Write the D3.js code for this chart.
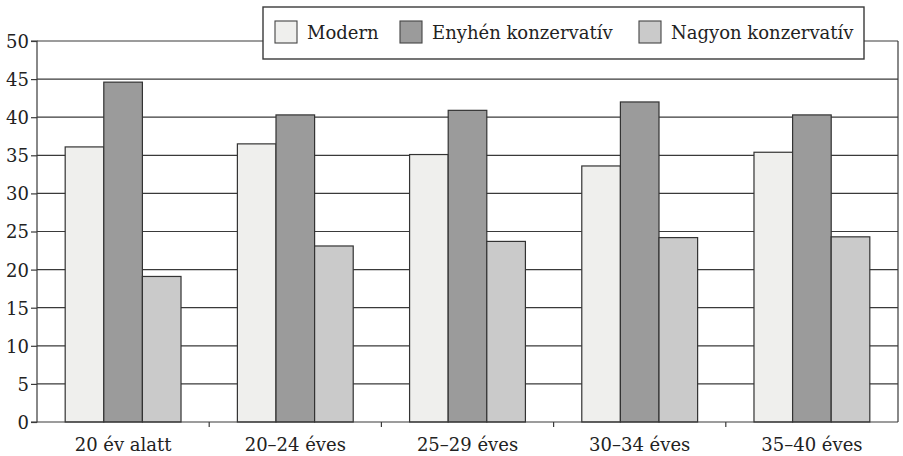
<!DOCTYPE html>
<html><head><meta charset="utf-8">
<script src="https://cdn.jsdelivr.net/npm/d3@7"></script>
<style>
html,body{margin:0;padding:0;background:#fff;}
svg{display:block;}
text{font-family:"DejaVu Serif",serif;fill:#222;}
</style></head>
<body><svg id="c" width="903" height="456"></svg>
<script>
const categories = ["20 év alatt","20–24 éves","25–29 éves","30–34 éves","35–40 éves"];
const seriesNames = ["Modern","Enyhén konzervatív","Nagyon konzervatív"];
const modern = [36.1, 36.5, 35.1, 33.6, 35.4];
const enyhen = [44.6, 40.3, 40.9, 42.0, 40.3];
const nagyon = [19.1, 23.1, 23.7, 24.2, 24.3];
const yTicks = [0,5,10,15,20,25,30,35,40,45,50];
const colors = ["#efefed","#9b9b9b","#cacaca"];

const values = [modern, enyhen, nagyon];
const svg = d3.select("#c");
const L = 37, R = 898, T = 41, B = 422;
const FS = 18;

const x0 = d3.scaleBand().domain(categories).range([L, R]).padding(0);
const x1 = d3.scaleBand().domain(seriesNames).range([0, x0.bandwidth()]).paddingInner(0).paddingOuter(0.73);
const y = d3.scaleLinear().domain([0, 50]).range([B, T]);

// gridlines
svg.append("g").selectAll("line").data(yTicks.filter(d => d > 0)).join("line")
  .attr("x1", L).attr("x2", R).attr("y1", d => y(d)).attr("y2", d => y(d))
  .attr("stroke", "#3a3a3a").attr("stroke-width", 1.2);

// right border
svg.append("line").attr("x1", R).attr("x2", R).attr("y1", T).attr("y2", B)
  .attr("stroke", "#3a3a3a").attr("stroke-width", 1.2);

// bars
const g = svg.append("g");
categories.forEach((c, i) => {
  g.selectAll(null).data(seriesNames.map((s, j) => ({s, j, v: values[j][i]}))).join("rect")
    .attr("x", d => x0(c) + x1(d.s))
    .attr("y", d => y(d.v))
    .attr("width", x1.bandwidth())
    .attr("height", d => B - y(d.v))
    .attr("fill", d => colors[d.j])
    .attr("stroke", "#333").attr("stroke-width", 1.2);
});

// y axis
const yAxis = d3.axisLeft(y).tickValues(yTicks).tickSize(6).tickPadding(2);
const ya = svg.append("g").attr("transform", `translate(${L},0)`).call(yAxis);
ya.select(".domain").attr("stroke", "#3a3a3a").attr("stroke-width", 1.2).attr("d", `M-6,${B}H0V${T}H-6`);
ya.selectAll(".tick line").attr("stroke", "#3a3a3a").attr("stroke-width", 1.2);
ya.selectAll(".tick text").attr("font-size", FS).attr("font-family", "DejaVu Serif").attr("fill", "#222").attr("dy", "0.36em");

// x axis
const xAxis = d3.axisBottom(x0).tickSize(0).tickPadding(16);
const xa = svg.append("g").attr("transform", `translate(0,${B})`).call(xAxis);
xa.select(".domain").attr("stroke", "#3a3a3a").attr("stroke-width", 1.2).attr("d", `M${L},0H${R}`);
xa.selectAll(".tick text").attr("font-size", FS).attr("font-family", "DejaVu Serif").attr("fill", "#222");
// boundary ticks
svg.append("g").selectAll("line").data(categories.slice(1)).join("line")
  .attr("x1", d => x0(d)).attr("x2", d => x0(d)).attr("y1", B).attr("y2", B + 5)
  .attr("stroke", "#3a3a3a").attr("stroke-width", 1.2);

// legend
const lg = svg.append("g");
lg.append("rect").attr("x", 263).attr("y", 7).attr("width", 601).attr("height", 52)
  .attr("fill", "#fff").attr("stroke", "#3a3a3a").attr("stroke-width", 1.4);
const legX = [275, 400, 639];
seriesNames.forEach((s, j) => {
  lg.append("rect").attr("x", legX[j]).attr("y", 21).attr("width", 22).attr("height", 22)
    .attr("fill", colors[j]).attr("stroke", "#444").attr("stroke-width", 1.1);
  lg.append("text").attr("x", legX[j] + 32).attr("y", 39).attr("font-size", FS).text(s);
});
</script></body></html>
